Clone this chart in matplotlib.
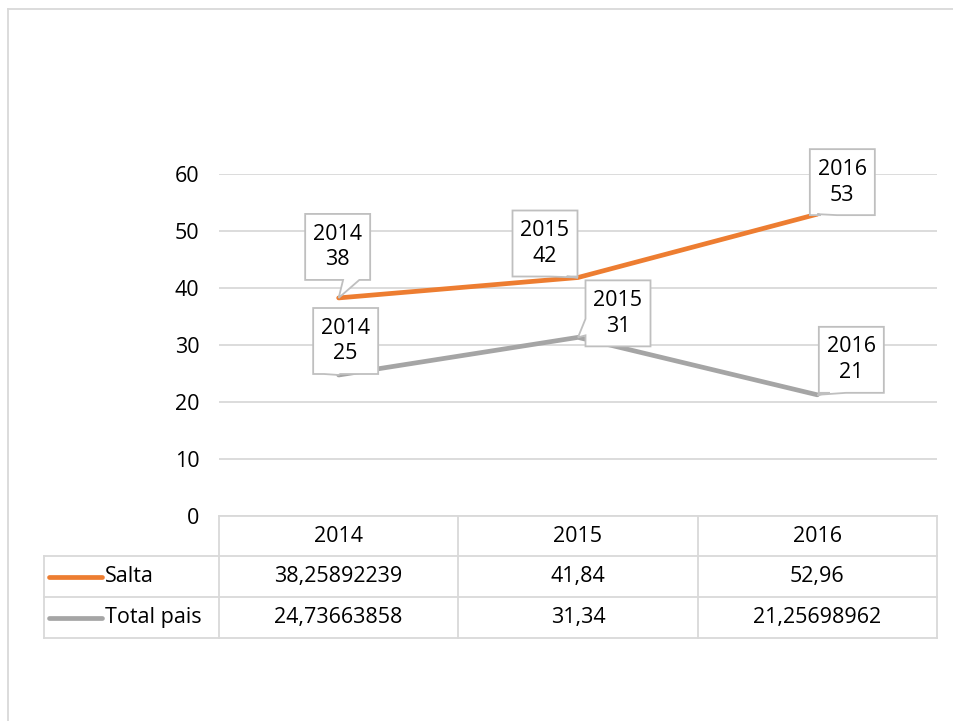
import matplotlib
matplotlib.use("Agg")
import matplotlib.pyplot as plt
from matplotlib.lines import Line2D
from matplotlib.patches import Polygon
from matplotlib.transforms import blended_transform_factory, Affine2D, ScaledTranslation

plt.rcParams['font.family'] = ['Open Sans', 'DejaVu Sans']

years = ["2014", "2015", "2016"]
salta = [38.25892239, 41.84, 52.96]
total_pais = [24.73663858, 31.34, 21.25698962]
series_names = ["Salta", "Total pais"]
yticks = [0, 10, 20, 30, 40, 50, 60]

colors = ["#ED7D31", "#A5A5A5"]
grid_c = "#D9D9D9"
FS = 15.5
W, H = 954, 721
fig = plt.figure(figsize=(W / 100, H / 100), dpi=100)
ax_l, ax_r, ax_b, ax_t = 219, 937, 516, 174
ax = fig.add_axes([ax_l / W, 1 - ax_b / H, (ax_r - ax_l) / W, (ax_b - ax_t) / H])

x = list(range(len(years)))
ax.set_xlim(-0.5, len(years) - 0.5)
ax.set_ylim(0, 60)
ax.set_yticks(yticks)
ax.set_yticklabels([str(t) for t in yticks], fontsize=FS, color="#000000")
ax.tick_params(axis='y', length=0, pad=14)
ax.set_xticks([])
for s in ax.spines.values():
    s.set_visible(False)
ax.grid(axis='y', color=grid_c, lw=1.3)
ax.set_axisbelow(True)

for vals, c in zip([salta, total_pais], colors):
    ax.plot(x, vals, color=c, lw=3.4, solid_capstyle='round', zorder=2)


def callout_verts(ox, oy, w, h):
    """Rectangle centred at (ox, oy) with wedge pointing to (0, 0); pixel offsets, y up."""
    l, r, b, t = ox - w / 2, ox + w / 2, oy - h / 2, oy + h / 2
    dx, dy = -ox / (w / 2), -oy / (h / 2)
    if abs(dy) >= abs(dx):
        if dx > 0:
            xa, xb = l + 7 * w / 12, l + 10 * w / 12
        else:
            xa, xb = l + 2 * w / 12, l + 5 * w / 12
        if dy < 0:  # bottom edge
            return [(l, t), (r, t), (r, b), (xb, b), (0, 0), (xa, b), (l, b)]
        return [(l, b), (r, b), (r, t), (xb, t), (0, 0), (xa, t), (l, t)]
    if dy < 0:
        ya, yb = t - 10 * h / 12, t - 7 * h / 12
    else:
        ya, yb = t - 5 * h / 12, t - 2 * h / 12
    if dx > 0:  # right edge
        return [(l, b), (r, b), (r, ya), (0, 0), (r, yb), (r, t), (l, t)]
    return [(r, b), (r, t), (l, t), (l, yb), (0, 0), (l, ya), (l, b)]


# callouts (box centre offsets in pixels from the data point)
offs = [[(-1, 51), (-33, 34), (25, 32)],
        [(7, 34), (40, 24), (34, 35)]]
box_w, box_h = 65, 66
for vals, off in zip([salta, total_pais], offs):
    for i, v in enumerate(vals):
        ox, oy = off[i]
        tr = Affine2D() + ScaledTranslation(i, v, ax.transData)
        poly = Polygon(callout_verts(ox, oy, box_w, box_h), closed=True, fc='white',
                       ec='#BFBFBF', lw=1.3, transform=tr, clip_on=False, zorder=4)
        ax.add_patch(poly)
        ax.annotate(f"{years[i]}\n{round(v):d}", xy=(i, v), xytext=(ox, oy),
                    textcoords='offset pixels', ha='center', va='center',
                    fontsize=FS, linespacing=1.3, zorder=5, annotation_clip=False)

# data table below the axes
trans = blended_transform_factory(ax.transData, ax.transAxes)
ax_h = ax_b - ax_t
px_per_unit = (ax_r - ax_l) / len(years)
rows_px = [0, 40, 81, 122]
ry = [-r / ax_h for r in rows_px]
left_x = -0.5 - (ax_l - 44) / px_per_unit
lkw = dict(color=grid_c, lw=1.3, transform=trans, clip_on=False)
ax.add_line(Line2D([-0.5, len(years) - 0.5], [ry[0], ry[0]], **lkw))
for yy in ry[1:]:
    ax.add_line(Line2D([left_x, len(years) - 0.5], [yy, yy], **lkw))
for b in [i - 0.5 for i in range(len(years) + 1)]:
    ax.add_line(Line2D([b, b], [ry[0], ry[3]], **lkw))
ax.add_line(Line2D([left_x, left_x], [ry[1], ry[3]], **lkw))

for i, yr in enumerate(years):
    ax.text(i, (ry[0] + ry[1]) / 2, yr, transform=trans, ha='center', va='center', fontsize=FS)
for r, (name, vals, c) in enumerate(zip(series_names, [salta, total_pais], colors)):
    yc = (ry[r + 1] + ry[r + 2]) / 2
    for i, v in enumerate(vals):
        ax.text(i, yc, str(v).replace('.', ','), transform=trans, ha='center', va='center', fontsize=FS)
    lx0 = left_x + 5 / px_per_unit
    lx1 = left_x + 58 / px_per_unit
    ax.add_line(Line2D([lx0, lx1], [yc, yc], color=c, lw=3.4, solid_capstyle='round',
                       transform=trans, clip_on=False))
    ax.text(lx1 + 3 / px_per_unit, yc, name, transform=trans, ha='left', va='center', fontsize=FS)

# outer chart border (top & left visible)
fig.add_artist(Line2D([8 / W, 1], [1 - 9 / H, 1 - 9 / H], color=grid_c, lw=1.3, transform=fig.transFigure))
fig.add_artist(Line2D([8 / W, 8 / W], [1 - 9 / H, 0], color=grid_c, lw=1.3, transform=fig.transFigure))

fig.savefig("out.png", dpi=100, facecolor='white')
